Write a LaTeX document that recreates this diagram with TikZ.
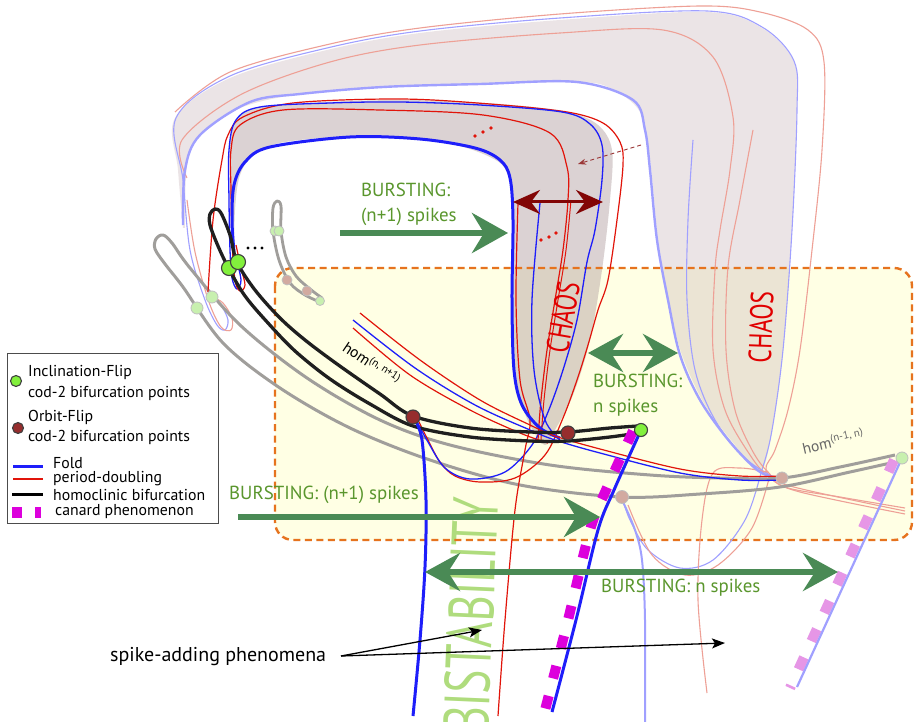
\documentclass[tikz,border=0pt]{standalone}
\usepackage{fontspec}
\setmainfont{PT Sans}
\usetikzlibrary{arrows.meta}
\definecolor{foldblue}{RGB}{30,30,250}
\definecolor{pdred}{RGB}{225,20,10}
\definecolor{lblue}{RGB}{160,160,255}
\definecolor{lpink}{RGB}{238,160,150}
\definecolor{hgray}{RGB}{160,158,155}
\definecolor{arrgreen}{RGB}{74,138,85}
\definecolor{txtgreen}{RGB}{90,150,45}
\definecolor{darkred}{RGB}{130,5,5}
\definecolor{boxorange}{RGB}{230,115,30}
\definecolor{boxyellow}{RGB}{255,255,228}
\definecolor{canard}{RGB}{220,0,220}
\definecolor{lcanard}{RGB}{230,150,230}
\definecolor{ifgreen}{RGB}{130,240,60}
\definecolor{lifgreen}{RGB}{200,240,175}
\definecolor{ofred}{RGB}{150,45,45}
\definecolor{lofred}{RGB}{210,170,160}
\definecolor{bistab}{RGB}{175,220,125}
\definecolor{chaosred}{RGB}{225,0,0}
\definecolor{bandA}{RGB}{200,180,185}
\definecolor{bandB}{RGB}{170,150,152}
\begin{document}
\begin{tikzpicture}[x=1pt,y=-1pt,
  fold/.style={foldblue, line width=3pt},
  foldthin/.style={foldblue, line width=1.3pt},
  pd/.style={pdred, line width=1.2pt},
  fblue/.style={lblue, line width=1.1pt},
  fbluethick/.style={lblue, line width=2.4pt},
  fpink/.style={lpink, line width=1.1pt},
  homo/.style={black!88, line width=3.3pt, line join=round},
  hgrayline/.style={hgray, line width=3pt, line join=round},
  garrow/.style={arrgreen, line width=6pt},
  bighead/.style={-{Stealth[length=36pt,width=40pt,inset=12pt]}},
  bigheads/.style={{Stealth[length=35pt,width=38pt,inset=12pt]}-{Stealth[length=35pt,width=38pt,inset=12pt]}},
  ifdot/.style={circle, fill=ifgreen, draw=black!75, line width=1.1pt, inner sep=0pt},
  lifdot/.style={circle, fill=lifgreen, draw=black!25, line width=0.8pt, inner sep=0pt},
  ofdot/.style={circle, fill=ofred, draw=black!75, line width=1.1pt, inner sep=0pt},
  lofdot/.style={circle, fill=lofred, draw=black!25, line width=0.8pt, inner sep=0pt},
  gtext/.style={text=txtgreen, font=\fontsize{18.9}{25}\selectfont, inner sep=0pt, align=left},
  legtext/.style={font=\fontsize{15.8}{17}\selectfont, inner sep=0pt, anchor=west},
  smoothp/.style={smooth, tension=0.55}
]
\useasboundingbox (0,0) rectangle (916,722);
\clip (0,0) rectangle (916,722);
\fill[white] (0,0) rectangle (916,722);

% yellow box fill
\fill[boxyellow, rounded corners=18pt] (275,268) rectangle (912,540);

% outer band fill
\fill[bandA, fill opacity=0.35] plot[smoothp] coordinates {(183,228) (178,170) (175,118) (230,78) (327,50) (420,33) (560,20) (707,12) (762,28) (794,62) (797,110) (792,230) (783,350) (772,430) (760,472) (735,445) (705,405) (682,355) (668,300) (658,240) (650,160) (640,112) (610,88) (577,82) (480,84) (383,87) (300,94) (240,108) (200,135) (187,165) (185,228)} -- cycle;

% dark band fill
\fill[bandB, fill opacity=0.42] plot[smoothp] coordinates {(232,258) (230,180) (231,135) (245,112) (290,104) (400,100) (500,104) (567,112) (598,125) (612,150) (610,200) (602,270) (590,340) (573,395) (555,430) (545,445) (530,425) (518,390) (513,330) (513,220) (508,175) (490,157) (440,142) (350,137) (285,142) (255,153) (240,175) (235,210) (234,258)} -- cycle;

% BISTABILITY
\node[rotate=87.5, text=bistab, font=\fontsize{64}{64}\selectfont, inner sep=0pt] (bist) at (471,615) {\scalebox{0.70}[1]{BISTABILITY}};

% yellow box border
\draw[boxorange, line width=2.4pt, dash pattern=on 7pt off 4.5pt, rounded corners=18pt] (275,268) rectangle (912,540);

% ---------- faded lines of outer band ----------
\draw[fpink] plot[smoothp] coordinates {(175,112) (230,72) (330,44) (420,28) (560,14) (700,6) (760,12) (808,30) (824,62) (822,150) (812,250) (800,350) (788,410) (775,450) (766,470) (785,487) (840,497) (905,508)};
\draw[fpink] plot[smoothp] coordinates {(187,178) (182,140) (240,95) (330,62) (420,45) (560,33) (663,30) (713,57) (733,117) (730,170) (720,230) (715,270) (713,350) (725,410) (750,455) (770,478) (800,492) (905,514)};
\draw[fblue] plot[smoothp] coordinates {(212,297) (221,305) (228,320) (225,330) (217,325) (205,300) (190,250) (183,180) (176,118) (230,76) (327,48) (420,31) (560,18) (707,11) (762,27) (794,61) (797,110) (792,230) (783,350) (772,430) (762,470) (745,520) (713,560) (680,568) (648,550) (630,520) (623,500)};
\draw[fpink] plot[smoothp] coordinates {(214,298) (223,303) (232,318) (231,330) (221,327) (209,302) (195,252) (187,200)};
\draw[fblue] plot[smoothp] coordinates {(693,140) (688,220) (687,300) (695,370) (715,420) (745,458) (770,475)};
\draw[fpink] plot[smoothp] coordinates {(753,130) (740,200) (728,267) (726,350) (735,410) (752,450) (768,472) (790,486) (905,511)};
\draw[fpink] plot[smoothp] coordinates {(628,505) (652,555) (685,575) (718,565) (752,528) (770,475)};
\draw[fpink] plot[smoothp] coordinates {(767,472) (740,468) (713,473) (702,520) (698,600) (707,693)};
\draw[fbluethick] plot[smoothp] coordinates {(183,225) (185,170) (200,135) (250,102) (300,94) (383,87) (480,84) (577,82) (633,100) (645,130) (650,170) (657,240) (668,300) (680,355) (700,400) (730,442) (760,472) (782,478)};
% faded blue down from lower orbit-flip point
\draw[lblue, line width=2pt] plot[smoothp] coordinates {(623,502) (635,530) (642,560) (645,620) (645,722)};

% ---------- gray homoclinic curves ----------
\draw[hgrayline] plot[smoothp] coordinates {(895,462) (850,472) (780,487) (700,494) (621,497) (520,485) (430,460) (350,428) (280,388) (223,343) (183,287) (165,264) (155,249) (156,239) (163,235) (172,243) (190,268) (240,325) (307,378) (380,420) (450,445) (550,465) (650,475) (720,478) (782,478) (840,467) (895,455)};
\draw[hgrayline, line width=2.8pt] plot[smoothp] coordinates {(320,302) (305,295) (290,283) (279,260) (273,231) (273,208) (277,201) (281,206) (281,231) (286,257) (296,276) (310,289) (322,298)};

% ---------- dark band lines ----------
\draw[pd] plot[smoothp] coordinates {(208,292) (213,220) (222,160) (228,135) (243,117) (293,103) (400,99) (490,104) (567,112) (603,123) (620,142) (623,165) (617,220) (608,280) (598,310) (588,345) (577,380) (563,418) (545,455) (515,478) (480,482) (455,476) (440,462) (428,440) (418,420)};
\draw[foldthin] plot[smoothp] coordinates {(236,258) (241,280) (237,289) (232,278) (230,250) (229,200) (229,150) (236,120) (260,107) (330,103) (400,102) (480,105) (562,112) (590,124) (602,145) (602,180) (595,230) (587,262) (577,320) (563,370) (548,412) (532,445) (505,472) (470,479) (445,468) (428,442) (416,420)};
\draw[pd] plot[smoothp] coordinates {(236,245) (241,268) (245,285) (240,291) (235,280) (232,240) (231,190) (231,150) (240,125) (283,110) (380,110) (483,115) (550,133) (567,167) (568,200) (563,250) (555,300) (547,350) (541,400) (538,440)};
\draw[pd, line width=1pt] plot[smoothp] coordinates {(571,200) (566,250) (558,300) (550,350) (544,400) (541,440)};
\draw[pd] plot[smoothp] coordinates {(518,203) (516,300) (520,380) (530,420) (525,450) (515,510) (505,620) (498,716)};
\draw[foldthin] plot[smoothp] coordinates {(540,203) (532,300) (534,370) (545,420) (560,440)};
\draw[fold] plot[smoothp] coordinates {(234,252) (232,220) (234,185) (245,162) (270,147) (350,137) (420,139) (475,148) (500,160) (510,178) (513,220) (512,300) (514,370) (522,405) (540,428) (560,438)};

% three lines from the left into the crossing, continuing right
\draw[pd] plot[smoothp] coordinates {(360,313) (420,360) (480,400) (530,425) (555,436) (600,449) (680,469) (740,476) (782,476)};
\draw[foldthin] plot[smoothp] coordinates {(353,320) (415,368) (475,405) (530,430) (555,440) (600,453) (680,473) (740,480) (782,480)};
\draw[pd] plot[smoothp] coordinates {(353,328) (410,375) (470,410) (520,433) (548,443)};

% ---------- homoclinic (black) ----------
\draw[homo] plot[smoothp] coordinates {(638,433) (610,437) (568,441) (530,441) (470,437) (413,426) (370,404) (330,379) (295,351) (268,323) (245,296) (229,269) (218,246) (210,225) (210,214) (215,209) (221,213) (230,235) (237,262) (255,290) (280,318) (305,340) (337,364) (380,394) (413,416) (470,428) (530,432) (568,432) (610,428) (638,426)};

% ---------- fold line and canard lines ----------
\draw[fold] plot[smoothp] coordinates {(415,420) (422,440) (426,500) (425,567) (420,640) (413,716)};
\draw[canard, line width=10pt, dash pattern=on 13pt off 18pt] plot[smoothp] coordinates {(633,431) (606,490) (590,530) (568,620) (544,714)};
\draw[fold] plot[smoothp] coordinates {(641,430) (614,490) (598,530) (576,620) (552,712)};
\coordinate (fcA) at (902,458); \coordinate (fcB) at (797,687);
\draw[lcanard, line width=10pt, dash pattern=on 13pt off 18pt] (894,460) -- (790,688);
\draw[lblue, line width=2.2pt] (fcA) -- (fcB);

% ---------- dots ----------
\node[ifdot, minimum size=15pt] (if1) at (229,268) {};
\node[ifdot, minimum size=15pt] (if2) at (238,262) {};
\node[ifdot, minimum size=13pt] (if3) at (641,430) {};
\node[lifdot, minimum size=12pt] (lif1) at (212,297) {};
\node[lifdot, minimum size=12pt] (lif2) at (197,308) {};
\node[lifdot, minimum size=10pt] (lif3) at (275,231) {};
\node[lifdot, minimum size=10pt] (lif4) at (279,231) {};
\node[lifdot, minimum size=9pt] (lif5) at (320,301) {};
\node[lifdot, minimum size=12pt] (lif6) at (902,458) {};
\node[ofdot, minimum size=14pt] (of1) at (413,417) {};
\node[ofdot, minimum size=14pt] (of2) at (568,433) {};
\node[lofdot, minimum size=10pt] (lof1) at (287,280) {};
\node[lofdot, minimum size=10pt] (lof2) at (307,291) {};
\node[lofdot, minimum size=13pt] (lof3) at (622,497) {};
\node[lofdot, minimum size=12pt] (lof4) at (782,478) {};

% ellipsis dots
\foreach \p in {(248,248),(255,248),(262,248)} \fill[black] \p circle (1.7pt);
\foreach \p in {(475,136),(483,132),(491,128),(541,240),(549,237),(556,233)} \fill[pdred] \p circle (1.8pt);

% ---------- arrows ----------
\coordinate (a1s) at (340,233); \coordinate (a1e) at (508,233);
\draw[garrow, bighead] (a1s) -- (a1e);
\coordinate (r1) at (513,202); \coordinate (r2) at (603,202);
\draw[darkred, line width=3pt, {Stealth[length=27pt,width=24pt,inset=9pt]}-{Stealth[length=27pt,width=24pt,inset=9pt]}] (r1) -- (r2);
\coordinate (d1) at (641,145); \coordinate (d2) at (578,164);
\draw[darkred!80, line width=0.9pt, dash pattern=on 4pt off 3pt, -{Stealth[length=8pt,width=6pt]}] (d1) -- (d2);
\coordinate (a2s) at (588,353); \coordinate (a2e) at (678,353);
\draw[garrow, bigheads] (a2s) -- (a2e);
\coordinate (a3s) at (238,517); \coordinate (a3e) at (600,517);
\draw[garrow, bighead] (a3s) -- (a3e);
\coordinate (a4s) at (425,572); \coordinate (a4e) at (838,572);
\draw[garrow, bigheads] (a4s) -- (a4e);

% ---------- labels ----------
\node[gtext, anchor=west] (b1) at (361,204.5) {BURSTING:\\(n+1) spikes};
\node[gtext, anchor=west] (b2) at (593,395) {BURSTING:\\n spikes};
\node[gtext, anchor=west] (b3) at (229,495) {BURSTING: (n+1) spikes};
\node[gtext, anchor=west] (b4) at (601,588) {BURSTING: n spikes};
\node[rotate=80, text=chaosred, font=\fontsize{32}{32}\selectfont, inner sep=0pt] (ch1) at (563,317) {\scalebox{0.74}[1]{CHAOS}};
\node[rotate=88, text=chaosred, font=\fontsize{32}{32}\selectfont, inner sep=0pt] (ch2) at (761,327) {\scalebox{0.74}[1]{CHAOS}};
\node[rotate=-34, font=\fontsize{15.5}{15.5}\selectfont, inner sep=0pt] (hom1) at (372,363) {hom\textsuperscript{(n, n+1)}};
\node[rotate=13, text=black!60, font=\fontsize{15.5}{15.5}\selectfont, inner sep=0pt] (hom2) at (833,441) {hom\textsuperscript{(n-1, n)}};

\node[font=\fontsize{20}{22}\selectfont, inner sep=0pt, anchor=west] (spk) at (110,657) {spike-adding phenomena};
\coordinate (sp0) at (341,656);
\coordinate (sp1) at (482,630);
\coordinate (sp2) at (725,643);
\draw[black, line width=1.3pt, -{Stealth[length=13pt,width=10pt,inset=3pt]}] (sp0) -- (sp1);
\draw[black, line width=1.3pt, -{Stealth[length=13pt,width=10pt,inset=3pt]}] (sp0) -- (sp2);

% ---------- legend ----------
\draw[black!70, line width=1pt, fill=white] (7,353) rectangle (218,523);
\node[ifdot, minimum size=11pt] (lg1) at (16,381) {};
\node[legtext] (lt1) at (28,372) {Inclination-Flip};
\node[legtext] (lt2) at (28,393) {cod-2 bifurcation points};
\node[ofdot, minimum size=11pt] (lg2) at (18,428) {};
\node[legtext] (lt3) at (28,417) {Orbit-Flip};
\node[legtext] (lt4) at (28,437) {cod-2 bifurcation points};
\draw[foldblue, line width=3pt] (13,466) -- (43,466);
\node[legtext] (lt5) at (53,463) {Fold};
\draw[pdred, line width=2pt] (13,479) -- (43,479);
\node[legtext] (lt6) at (53,479) {period-doubling};
\draw[black, line width=3pt] (12,494) -- (43,494);
\node[legtext] (lt7) at (53,495) {homoclinic bifurcation};
\fill[canard] (12,507) rectangle (22,518);
\fill[canard] (35,507) rectangle (41,518);
\node[legtext] (lt8) at (55,512) {canard phenomenon};
\end{tikzpicture}
\end{document}
